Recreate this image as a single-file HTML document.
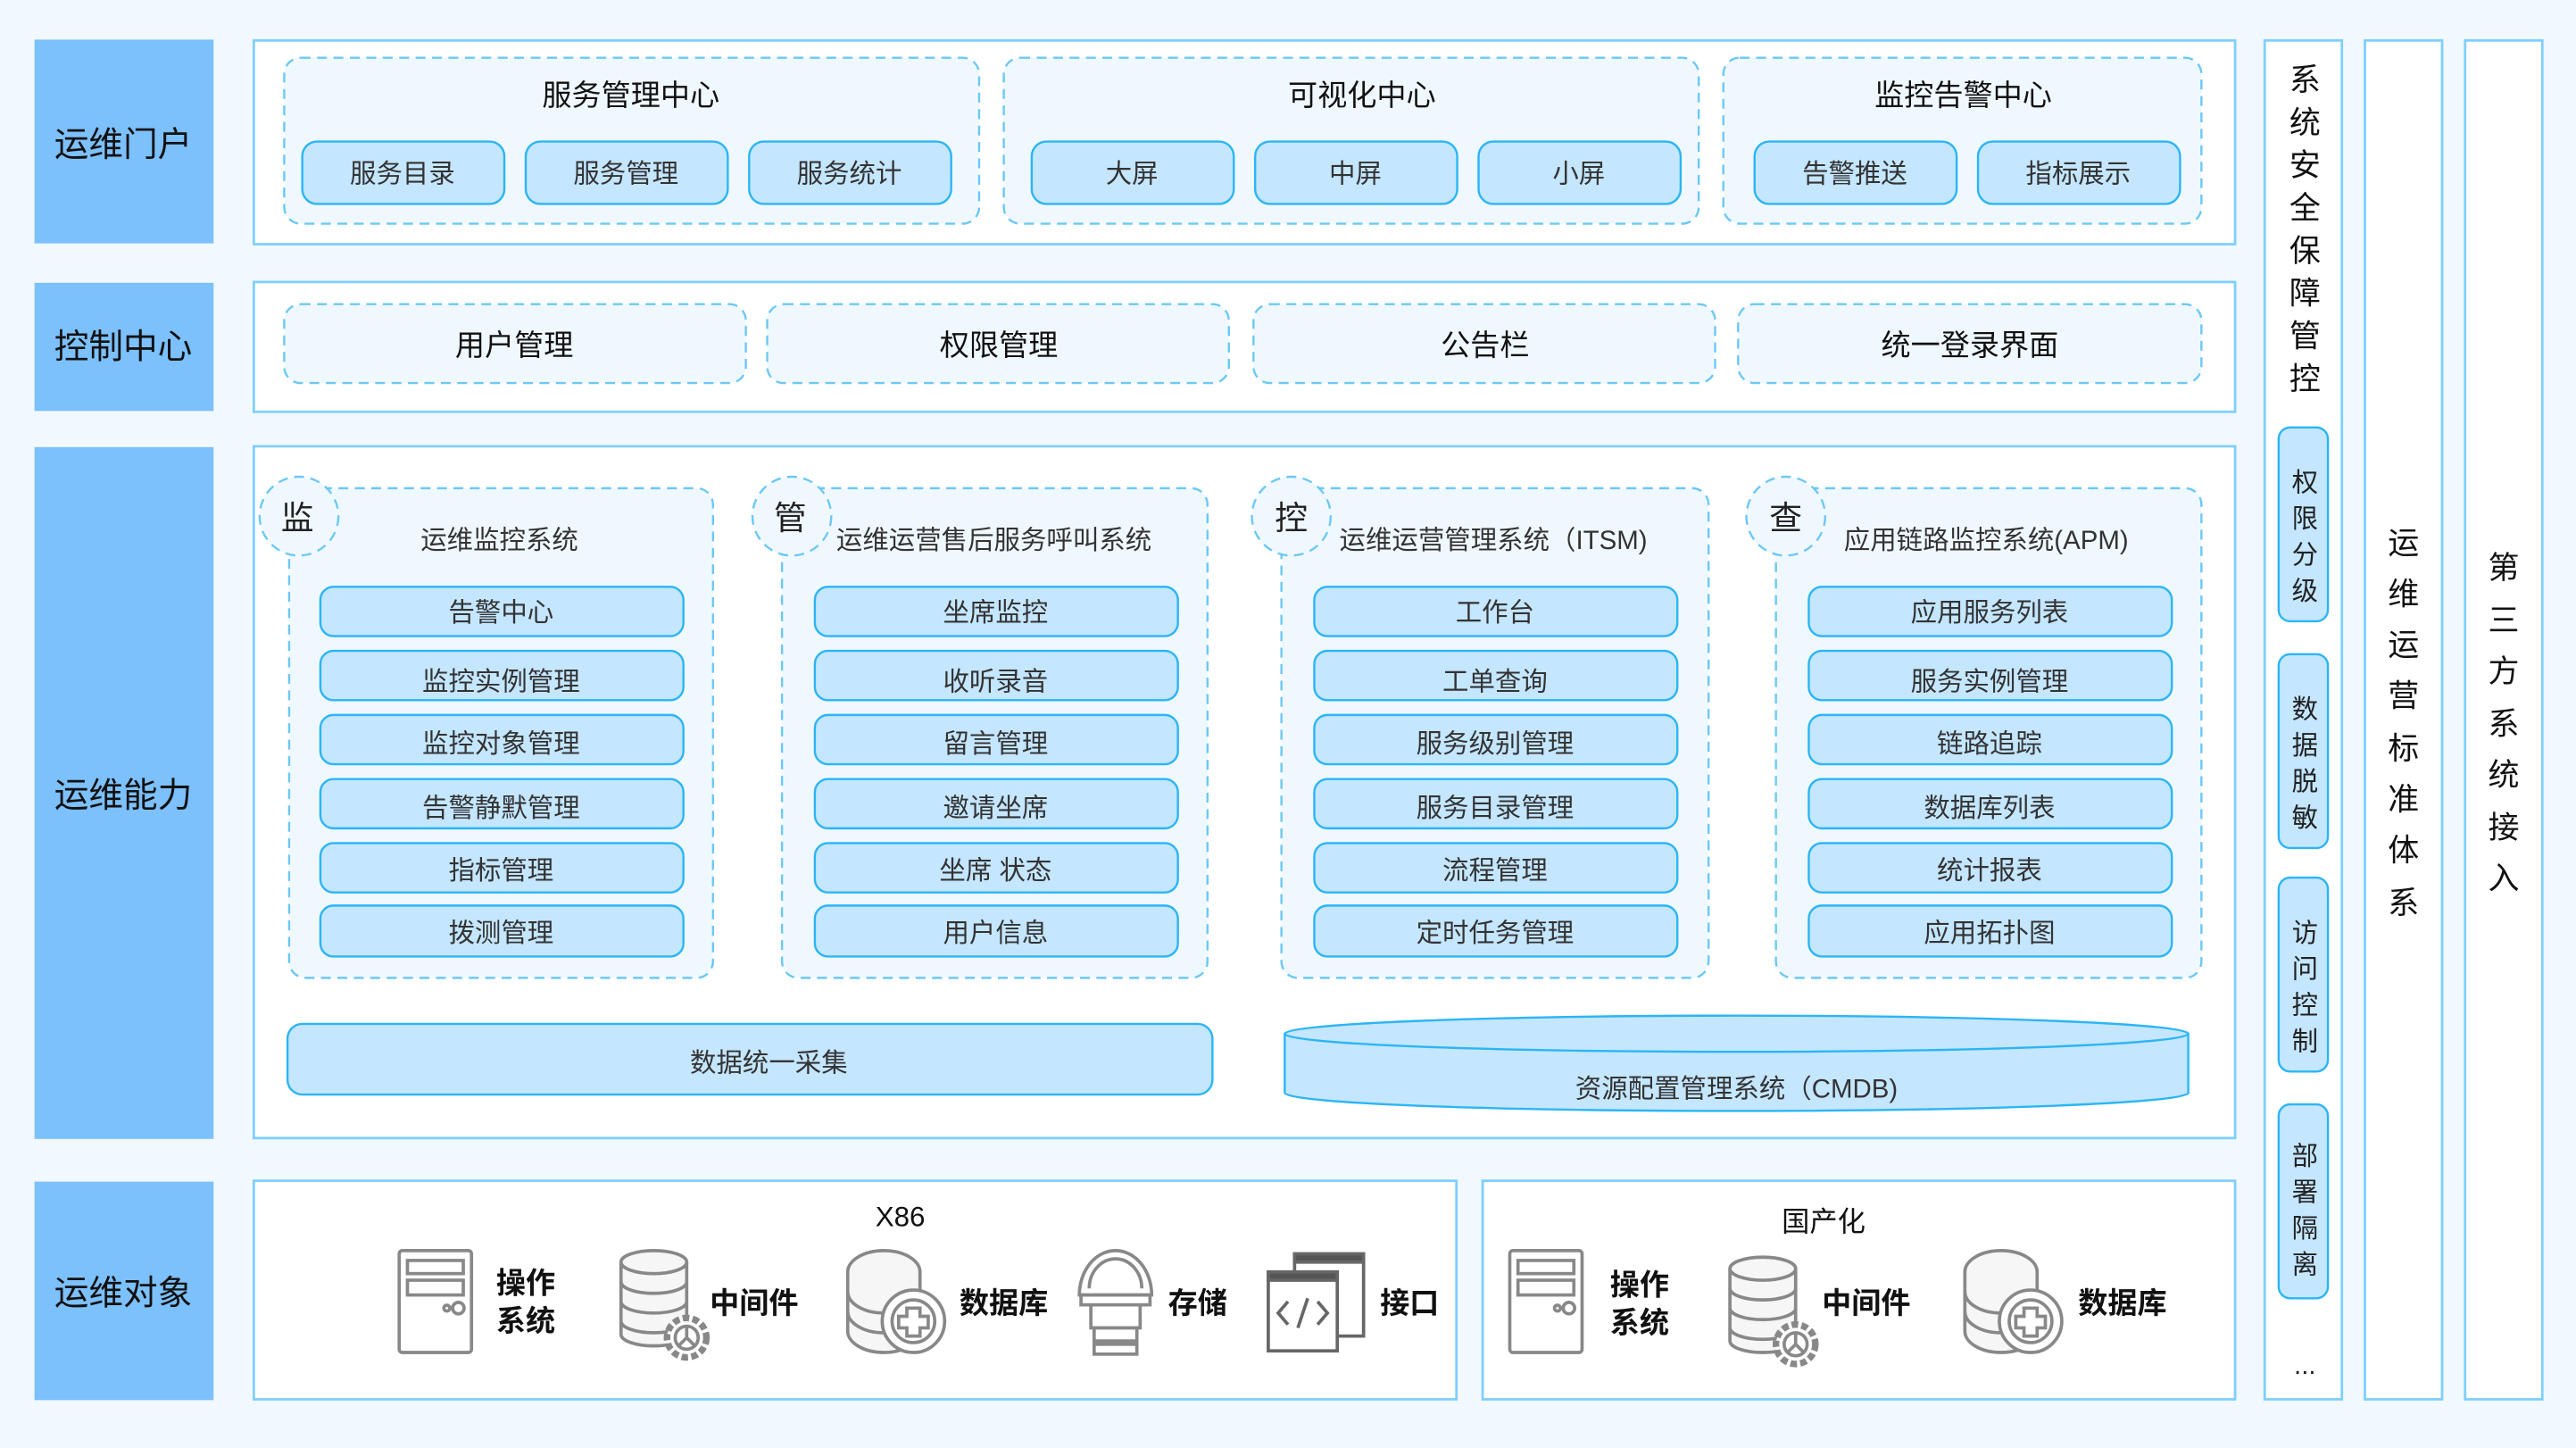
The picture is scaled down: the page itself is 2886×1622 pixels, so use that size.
<!DOCTYPE html>
<html><head><meta charset="utf-8"><style>
html,body{margin:0;padding:0;background:#f1f8ff;}
svg{display:block}
text{font-family:"Liberation Sans","Noto Sans CJK SC",sans-serif;}
</style></head><body>
<svg width="2886" height="1622" viewBox="0 0 1568 881" xmlns="http://www.w3.org/2000/svg">
<defs>
<g id="server" fill="none" stroke="#888" stroke-width="2">
<rect x="1" y="1" width="44" height="62" rx="2"/>
<rect x="6" y="7" width="34" height="8"/>
<rect x="6" y="19" width="34" height="9"/>
<circle cx="30" cy="36" r="1.8"/><circle cx="37" cy="36" r="3.5"/>
</g>
<g id="mid" fill="#f6f6f6" stroke="#888" stroke-width="2">
<path d="M2,8 a20,7 0 0 1 40,0 v44 a20,7 0 0 1 -40,0z"/>
<path d="M2,8 a20,7 0 0 0 40,0 M2,20 a20,7 0 0 0 40,0 M2,32 a20,7 0 0 0 40,0 M2,44 a20,7 0 0 0 40,0" fill="none"/>
<circle cx="42" cy="54" r="12" fill="#fff" stroke-dasharray="4 2" stroke-width="4"/>
<circle cx="42" cy="54" r="7" fill="#fff"/>
<path d="M42,47 v7 l-5,5 M42,54 l5,5" fill="none"/>
</g>
<g id="db" fill="#f6f6f6" stroke="#888" stroke-width="2">
<path d="M2,14 a22,13 0 0 1 44,0 v36 a22,13 0 0 1 -44,0z"/>
<path d="M2,26 a22,13 0 0 0 44,0 M2,38 a22,13 0 0 0 44,0" fill="none"/>
<circle cx="42" cy="44" r="19" fill="#fff"/>
<circle cx="42" cy="44" r="13" fill="#fff"/>
<path d="M38,36 h8 v5 h5 v7 h-5 v5 h-8 v-5 h-5 v-7 h5z" fill="#fff"/>
</g>
<g id="store" fill="none" stroke="#888" stroke-width="2">
<path d="M3,28 a22,27 0 0 1 44,0 z"/>
<path d="M9,24 a16,18 0 0 1 32,0"/>
<rect x="4" y="28" width="42" height="6"/>
<path d="M10,34 v14 h30 v-14"/>
<rect x="12" y="48" width="26" height="8"/>
<rect x="12" y="58" width="26" height="6"/>
</g>
<g id="api" fill="none" stroke="#666" stroke-width="2">
<rect x="17" y="1" width="42" height="50" fill="#fff"/>
<rect x="17" y="1" width="42" height="5" fill="#555"/>
<rect x="1" y="12" width="42" height="48" fill="#fff"/>
<rect x="1" y="12" width="42" height="5" fill="#555"/>
<path d="M13,30 l-6,7 l6,7 M31,30 l6,7 l-6,7 M25,28 l-6,18"/>
</g>
</defs>

<!-- left labels -->
<g fill="#7cc0fc">
<rect x="21" y="24" width="109" height="124"/>
<rect x="21" y="172" width="109" height="78"/>
<rect x="21" y="272" width="109" height="421"/>
<rect x="21" y="719" width="109" height="133"/>
</g>
<g font-size="21" fill="#111" text-anchor="middle">
<text x="75" y="95">运维门户</text>
<text x="75" y="218">控制中心</text>
<text x="75" y="491">运维能力</text>
<text x="75" y="794">运维对象</text>
</g>

<!-- main panels -->
<g fill="#fff" stroke="#7dcfff" stroke-width="1.5">
<rect x="154.5" y="24.5" width="1206" height="124"/>
<rect x="154.5" y="171.5" width="1206" height="79"/>
<rect x="154.5" y="271.5" width="1206" height="421"/>
<rect x="154.5" y="718.5" width="732" height="133"/>
<rect x="902.5" y="718.5" width="458" height="133"/>
<rect x="1378.5" y="24.5" width="47" height="827"/>
<rect x="1439.5" y="24.5" width="47" height="827"/>
<rect x="1500.5" y="24.5" width="47" height="827"/>
</g>

<!-- dashed groups -->
<g fill="#f0f8ff" stroke="#6cc8f5" stroke-width="1.3" stroke-dasharray="6 4">
<rect x="173" y="35" width="423" height="101" rx="10"/>
<rect x="611" y="35" width="423" height="101" rx="10"/>
<rect x="1049" y="35" width="291" height="101" rx="10"/>
<rect x="173" y="185" width="281" height="48" rx="10"/>
<rect x="467" y="185" width="281" height="48" rx="10"/>
<rect x="763" y="185" width="281" height="48" rx="10"/>
<rect x="1058" y="185" width="282" height="48" rx="10"/>
<rect x="176" y="297" width="258" height="298" rx="10"/>
<rect x="476" y="297" width="259" height="298" rx="10"/>
<rect x="780" y="297" width="260" height="298" rx="10"/>
<rect x="1081" y="297" width="259" height="298" rx="10"/>
<circle cx="182" cy="314" r="24"/>
<circle cx="482" cy="314" r="24"/>
<circle cx="786" cy="314" r="24"/>
<circle cx="1087" cy="314" r="24"/>
</g>

<g font-size="18" fill="#111" text-anchor="middle">
<text x="384" y="64">服务管理中心</text>
<text x="829" y="64">可视化中心</text>
<text x="1195" y="64">监控告警中心</text>
<text x="313" y="216">用户管理</text>
<text x="608" y="216">权限管理</text>
<text x="904" y="216">公告栏</text>
<text x="1199" y="216">统一登录界面</text>
</g>
<g font-size="20" fill="#222" text-anchor="middle">
<text x="181" y="322">监</text><text x="481" y="322">管</text>
<text x="786" y="322">控</text><text x="1087" y="322">查</text>
</g>
<g font-size="16" fill="#333" text-anchor="middle">
<text x="304" y="334">运维监控系统</text>
<text x="605" y="334">运维运营售后服务呼叫系统</text>
<text x="909" y="334">运维运营管理系统（ITSM)</text>
<text x="1209" y="334">应用链路监控系统(APM)</text>
</g>

<!-- pills -->
<g fill="#c4e6ff" stroke="#2bb5f5" stroke-width="1.3">
<rect x="184" y="86" width="123" height="38" rx="9"/>
<rect x="320" y="86" width="123" height="38" rx="9"/>
<rect x="456" y="86" width="123" height="38" rx="9"/>
<rect x="628" y="86" width="123" height="38" rx="9"/>
<rect x="764" y="86" width="123" height="38" rx="9"/>
<rect x="900" y="86" width="123" height="38" rx="9"/>
<rect x="1068" y="86" width="123" height="38" rx="9"/>
<rect x="1204" y="86" width="123" height="38" rx="9"/>
<rect x="175" y="623" width="563" height="43" rx="9"/>
<rect x="1387" y="260" width="30" height="118" rx="7"/>
<rect x="1387" y="398" width="30" height="118" rx="7"/>
<rect x="1387" y="534" width="30" height="118" rx="7"/>
<rect x="1387" y="672" width="30" height="118" rx="7"/>
<path d="M782,629 v36 a275,11 0 0 0 550,0 v-36"/>
<ellipse cx="1057" cy="629" rx="275" ry="11"/>
</g>
<g font-size="16" fill="#333" text-anchor="middle">
<text x="245" y="111">服务目录</text><text x="381" y="111">服务管理</text><text x="517" y="111">服务统计</text>
<text x="689" y="111">大屏</text><text x="825" y="111">中屏</text><text x="961" y="111">小屏</text>
<text x="1129" y="111">告警推送</text><text x="1265" y="111">指标展示</text>
<text x="468" y="652">数据统一采集</text>
<text x="1057" y="668">资源配置管理系统（CMDB)</text>
</g>

<!-- row3 pills -->
<g fill="#c4e6ff" stroke="#2bb5f5" stroke-width="1.3" id="col">
<rect x="195" y="357" width="221" height="30" rx="8"/>
<rect x="195" y="396" width="221" height="30" rx="8"/>
<rect x="195" y="435" width="221" height="30" rx="8"/>
<rect x="195" y="474" width="221" height="30" rx="8"/>
<rect x="195" y="513" width="221" height="30" rx="8"/>
<rect x="195" y="551" width="221" height="31" rx="8"/>
</g>
<use href="#col" x="301"/><use href="#col" x="605"/><use href="#col" x="906"/>
<g font-size="16" fill="#333" text-anchor="middle">
<text x="305" y="378">告警中心</text><text x="305" y="420">监控实例管理</text><text x="305" y="458">监控对象管理</text>
<text x="305" y="497">告警静默管理</text><text x="305" y="535">指标管理</text><text x="305" y="573">拨测管理</text>
<text x="606" y="378">坐席监控</text><text x="606" y="420">收听录音</text><text x="606" y="458">留言管理</text>
<text x="606" y="497">邀请坐席</text><text x="606" y="535">坐席 状态</text><text x="606" y="573">用户信息</text>
<text x="910" y="378">工作台</text><text x="910" y="420">工单查询</text><text x="910" y="458">服务级别管理</text>
<text x="910" y="497">服务目录管理</text><text x="910" y="535">流程管理</text><text x="910" y="573">定时任务管理</text>
<text x="1211" y="378">应用服务列表</text><text x="1211" y="420">服务实例管理</text><text x="1211" y="458">链路追踪</text>
<text x="1211" y="497">数据库列表</text><text x="1211" y="535">统计报表</text><text x="1211" y="573">应用拓扑图</text>
</g>

<!-- vertical texts -->
<g font-size="19" fill="#111" text-anchor="middle">
<text x="1403" y="55">系</text><text x="1403" y="81">统</text><text x="1403" y="107">安</text><text x="1403" y="133">全</text>
<text x="1403" y="159">保</text><text x="1403" y="185">障</text><text x="1403" y="211">管</text><text x="1403" y="237">控</text>
<text x="1463" y="337">运</text><text x="1463" y="368">维</text><text x="1463" y="399">运</text><text x="1463" y="430">营</text>
<text x="1463" y="462">标</text><text x="1463" y="493">准</text><text x="1463" y="524">体</text><text x="1463" y="556">系</text>
<text x="1524" y="352">第</text><text x="1524" y="384">三</text><text x="1524" y="415">方</text><text x="1524" y="447">系</text>
<text x="1524" y="478">统</text><text x="1524" y="510">接</text><text x="1524" y="541">入</text>
</g>
<g font-size="16" fill="#222" text-anchor="middle">
<text x="1403" y="299">权</text><text x="1403" y="321">限</text><text x="1403" y="343">分</text><text x="1403" y="365">级</text>
<text x="1403" y="437">数</text><text x="1403" y="459">据</text><text x="1403" y="481">脱</text><text x="1403" y="503">敏</text>
<text x="1403" y="573">访</text><text x="1403" y="595">问</text><text x="1403" y="617">控</text><text x="1403" y="639">制</text>
<text x="1403" y="709">部</text><text x="1403" y="731">署</text><text x="1403" y="753">隔</text><text x="1403" y="775">离</text>
<text x="1403" y="836">...</text>
</g>

<!-- bottom -->
<g font-size="17" fill="#111" text-anchor="middle">
<text x="548" y="746">X86</text>
<text x="1110" y="749">国产化</text>
</g>
<use href="#server" x="242" y="760"/>
<use href="#mid" x="376" y="760"/>
<use href="#db" x="514" y="760"/>
<use href="#store" x="654" y="760"/>
<use href="#api" x="771" y="762"/>
<use href="#server" x="918" y="760"/>
<use href="#mid" x="1051" y="764"/>
<use href="#db" x="1194" y="760"/>
<g font-size="18" font-weight="bold" fill="#111">
<text x="302" y="787">操作</text><text x="302" y="810">系统</text>
<text x="432" y="799">中间件</text>
<text x="584" y="799">数据库</text>
<text x="711" y="799">存储</text>
<text x="840" y="799">接口</text>
<text x="980" y="788">操作</text><text x="980" y="811">系统</text>
<text x="1109" y="799">中间件</text>
<text x="1265" y="799">数据库</text>
</g>
</svg>
</body></html>
